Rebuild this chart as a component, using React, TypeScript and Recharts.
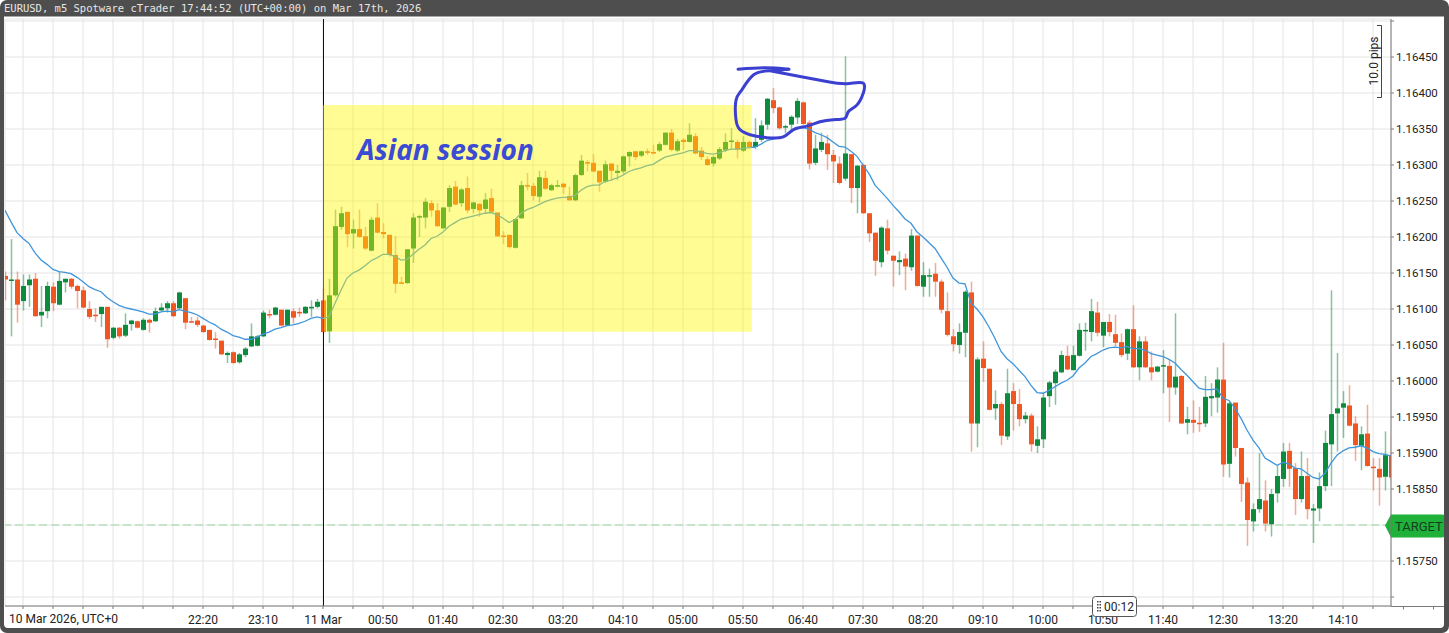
import React from 'react';
import {
  ComposedChart, Bar, Line, Scatter, XAxis, YAxis, CartesianGrid,
  ReferenceLine, ReferenceArea,
} from 'recharts';

// ---------- data (EURUSD m5) ----------
const opens = [
  1.16146,1.16139,1.16141,1.16111,1.16133,1.16142,1.16091,1.16097,1.16131,1.16106,
  1.16137,1.16142,1.16132,1.16126,1.16100,1.16092,1.16093,1.16103,1.16060,1.16074,
  1.16063,1.16079,1.16083,1.16071,1.16085,1.16083,1.16098,1.16101,1.16108,1.16101,
  1.16115,1.16083,1.16084,1.16077,1.16071,1.16059,1.16056,1.16036,1.16040,1.16026,
  1.16036,1.16048,1.16049,1.16062,1.16093,1.16092,1.16099,1.16077,1.16097,1.16096,
  1.16094,1.16102,1.16103,1.16112,1.16069,1.16119,1.16214,1.16235,1.16205,1.16211,
  1.16201,1.16181,1.16227,1.16207,1.16203,1.16175,1.16137,1.16136,1.16184,1.16228,
  1.16227,1.16247,1.16237,1.16212,1.16242,1.16270,1.16247,1.16268,1.16239,1.16246,
  1.16239,1.16254,1.16234,1.16202,1.16203,1.16185,1.16226,1.16272,1.16271,1.16256,
  1.16282,1.16265,1.16271,1.16274,1.16257,1.16251,1.16286,1.16304,1.16303,1.16292,
  1.16277,1.16302,1.16289,1.16291,1.16312,1.16319,1.16313,1.16319,1.16318,1.16320,
  1.16328,1.16345,1.16320,1.16335,1.16332,1.16340,1.16320,1.16308,1.16302,1.16309,
  1.16321,1.16333,1.16332,1.16320,1.16332,1.16325,1.16335,1.16356,1.16390,1.16380,
  1.16353,1.16356,1.16366,1.16387,1.16359,1.16303,1.16321,1.16330,1.16314,1.16302,
  1.16281,1.16315,1.16268,1.16300,1.16233,1.16206,1.16165,1.16212,1.16174,1.16165,
  1.16170,1.16158,1.16202,1.16131,1.16146,1.16149,1.16138,1.16097,1.16062,1.16050,
  1.16067,1.16123,1.15941,1.16031,1.16017,1.15962,1.15968,1.15923,1.15986,1.15968,
  1.15947,1.15952,1.15910,1.15919,1.15979,1.15997,1.16012,1.16035,1.16015,1.16035,
  1.16070,1.16068,1.16095,1.16063,1.16082,1.16065,1.16054,1.16038,1.16072,1.16019,
  1.16055,1.16019,1.16013,1.16021,1.16021,1.15991,1.16007,1.15942,1.15946,1.15942,
  1.15941,1.15976,1.15977,1.16002,1.15885,1.15970,1.15907,1.15859,1.15805,1.15822,
  1.15834,1.15801,1.15844,1.15864,1.15903,1.15879,1.15836,1.15868,1.15820,1.15823,
  1.15854,1.15912,1.15955,1.15963,1.15966,1.15941,1.15910,1.15927,1.15881,1.15878,
  1.15867,1.15897,
];
const highs = [
  1.16152,1.16197,1.16152,1.16148,1.16148,1.16150,1.16132,1.16138,1.16137,1.16152,
  1.16142,1.16143,1.16134,1.16131,1.16111,1.16101,1.16103,1.16103,1.16075,1.16075,
  1.16094,1.16085,1.16084,1.16087,1.16087,1.16102,1.16108,1.16111,1.16111,1.16124,
  1.16115,1.16089,1.16089,1.16078,1.16071,1.16068,1.16056,1.16041,1.16041,1.16039,
  1.16047,1.16080,1.16064,1.16098,1.16099,1.16103,1.16099,1.16099,1.16101,1.16102,
  1.16104,1.16112,1.16114,1.16130,1.16142,1.16238,1.16242,1.16235,1.16224,1.16238,
  1.16214,1.16228,1.16247,1.16219,1.16203,1.16201,1.16145,1.16183,1.16233,1.16231,
  1.16254,1.16251,1.16247,1.16241,1.16272,1.16278,1.16268,1.16284,1.16249,1.16247,
  1.16261,1.16267,1.16234,1.16208,1.16203,1.16225,1.16278,1.16289,1.16275,1.16292,
  1.16292,1.16274,1.16279,1.16275,1.16270,1.16288,1.16314,1.16307,1.16315,1.16292,
  1.16306,1.16302,1.16300,1.16313,1.16319,1.16320,1.16320,1.16323,1.16328,1.16332,
  1.16345,1.16350,1.16336,1.16337,1.16358,1.16344,1.16325,1.16312,1.16313,1.16325,
  1.16344,1.16351,1.16335,1.16340,1.16334,1.16365,1.16362,1.16393,1.16407,1.16381,
  1.16356,1.16369,1.16393,1.16388,1.16362,1.16342,1.16345,1.16342,1.16321,1.16312,
  1.16451,1.16315,1.16300,1.16302,1.16233,1.16206,1.16215,1.16224,1.16174,1.16180,
  1.16177,1.16211,1.16202,1.16165,1.16156,1.16164,1.16141,1.16123,1.16072,1.16080,
  1.16126,1.16138,1.16033,1.16055,1.16017,1.15987,1.15971,1.16017,1.15997,1.15989,
  1.15957,1.15955,1.15937,1.15984,1.16000,1.16016,1.16042,1.16049,1.16049,1.16080,
  1.16081,1.16114,1.16110,1.16082,1.16093,1.16092,1.16066,1.16073,1.16105,1.16062,
  1.16062,1.16041,1.16021,1.16043,1.16029,1.16094,1.16008,1.15964,1.15973,1.15964,
  1.16007,1.15997,1.16019,1.16053,1.15971,1.15970,1.15907,1.15866,1.15830,1.15900,
  1.15862,1.15850,1.15883,1.15914,1.15914,1.15886,1.15902,1.15893,1.15829,1.15873,
  1.15931,1.16126,1.16039,1.15986,1.15994,1.15951,1.15937,1.15967,1.15893,1.15893,
  1.15930,1.15925,
];
const lows = [
  1.16112,1.16062,1.16081,1.16098,1.16103,1.16089,1.16075,1.16087,1.16097,1.16105,
  1.16123,1.16128,1.16101,1.16101,1.16086,1.16082,1.16075,1.16046,1.16058,1.16059,
  1.16061,1.16070,1.16073,1.16070,1.16067,1.16082,1.16097,1.16095,1.16089,1.16100,
  1.16072,1.16081,1.16075,1.16067,1.16056,1.16045,1.16036,1.16025,1.16024,1.16024,
  1.16033,1.16047,1.16048,1.16061,1.16087,1.16091,1.16076,1.16076,1.16080,1.16089,
  1.16093,1.16089,1.16101,1.16066,1.16053,1.16117,1.16210,1.16186,1.16184,1.16199,
  1.16182,1.16180,1.16205,1.16198,1.16173,1.16122,1.16135,1.16135,1.16164,1.16200,
  1.16212,1.16228,1.16214,1.16212,1.16235,1.16244,1.16242,1.16233,1.16233,1.16228,
  1.16233,1.16234,1.16200,1.16190,1.16184,1.16184,1.16225,1.16265,1.16251,1.16248,
  1.16265,1.16264,1.16269,1.16260,1.16250,1.16250,1.16285,1.16291,1.16290,1.16263,
  1.16275,1.16278,1.16279,1.16288,1.16298,1.16307,1.16311,1.16314,1.16315,1.16318,
  1.16327,1.16319,1.16318,1.16321,1.16331,1.16315,1.16307,1.16299,1.16298,1.16307,
  1.16318,1.16321,1.16309,1.16318,1.16323,1.16322,1.16332,1.16349,1.16372,1.16349,
  1.16344,1.16345,1.16357,1.16356,1.16294,1.16300,1.16318,1.16293,1.16275,1.16273,
  1.16278,1.16247,1.16233,1.16232,1.16193,1.16146,1.16158,1.16176,1.16131,1.16147,
  1.16126,1.16153,1.16131,1.16117,1.16117,1.16117,1.16094,1.16062,1.16041,1.16038,
  1.16033,1.15902,1.15908,1.15999,1.15959,1.15946,1.15911,1.15918,1.15931,1.15937,
  1.15941,1.15902,1.15900,1.15907,1.15964,1.15967,1.16011,1.16015,1.16015,1.16034,
  1.16042,1.16055,1.16062,1.16047,1.16062,1.16048,1.16033,1.16029,1.16018,1.16001,
  1.16018,1.16001,1.16012,1.15983,1.15943,1.15981,1.15940,1.15926,1.15928,1.15929,
  1.15936,1.15951,1.15956,1.15867,1.15866,1.15895,1.15832,1.15771,1.15791,1.15817,
  1.15791,1.15784,1.15831,1.15853,1.15853,1.15814,1.15831,1.15808,1.15775,1.15805,
  1.15847,1.15854,1.15902,1.15921,1.15937,1.15889,1.15876,1.15881,1.15848,1.15827,
  1.15848,1.15860,
];
const closes = [
  1.16141,1.16141,1.16106,1.16132,1.16141,1.16090,1.16096,1.16132,1.16108,1.16139,
  1.16142,1.16131,1.16125,1.16102,1.16089,1.16091,1.16103,1.16058,1.16074,1.16062,
  1.16078,1.16084,1.16074,1.16085,1.16081,1.16097,1.16102,1.16108,1.16090,1.16123,
  1.16081,1.16082,1.16078,1.16068,1.16057,1.16058,1.16037,1.16039,1.16025,1.16037,
  1.16045,1.16062,1.16062,1.16095,1.16091,1.16102,1.16077,1.16099,1.16088,1.16095,
  1.16103,1.16103,1.16110,1.16068,1.16119,1.16215,1.16233,1.16204,1.16211,1.16200,
  1.16184,1.16224,1.16206,1.16204,1.16175,1.16135,1.16136,1.16183,1.16227,1.16229,
  1.16249,1.16237,1.16215,1.16241,1.16268,1.16245,1.16266,1.16237,1.16248,1.16237,
  1.16252,1.16235,1.16201,1.16201,1.16186,1.16225,1.16272,1.16271,1.16257,1.16283,
  1.16267,1.16272,1.16272,1.16269,1.16251,1.16286,1.16306,1.16303,1.16291,1.16276,
  1.16301,1.16292,1.16292,1.16312,1.16318,1.16311,1.16319,1.16317,1.16317,1.16329,
  1.16345,1.16321,1.16333,1.16332,1.16342,1.16316,1.16311,1.16300,1.16311,1.16322,
  1.16332,1.16334,1.16321,1.16332,1.16325,1.16332,1.16355,1.16392,1.16379,1.16351,
  1.16354,1.16367,1.16389,1.16357,1.16302,1.16323,1.16332,1.16315,1.16305,1.16275,
  1.16316,1.16268,1.16299,1.16233,1.16205,1.16167,1.16213,1.16181,1.16167,1.16168,
  1.16159,1.16202,1.16132,1.16147,1.16147,1.16138,1.16099,1.16064,1.16051,1.16068,
  1.16124,1.15941,1.16030,1.16018,1.15960,1.15968,1.15924,1.15983,1.15968,1.15947,
  1.15952,1.15912,1.15919,1.15977,1.15998,1.16013,1.16036,1.16016,1.16036,1.16071,
  1.16071,1.16097,1.16067,1.16082,1.16068,1.16053,1.16036,1.16072,1.16019,1.16055,
  1.16019,1.16012,1.16020,1.16022,1.15991,1.16006,1.15941,1.15947,1.15942,1.15941,
  1.15978,1.15979,1.16002,1.15884,1.15969,1.15907,1.15857,1.15807,1.15822,1.15836,
  1.15802,1.15843,1.15868,1.15902,1.15878,1.15836,1.15868,1.15822,1.15823,1.15854,
  1.15914,1.15954,1.15962,1.15969,1.15938,1.15911,1.15926,1.15882,1.15880,1.15866,
  1.15897,1.15866,
];
const movingAvg = [
  1.16237,1.16221,1.16206,1.16198,1.16191,1.16178,1.16168,1.16162,1.16155,1.16152,
  1.16151,1.16149,1.16144,1.16138,1.16131,1.16127,1.16124,1.16116,1.16110,1.16105,
  1.16102,1.16100,1.16098,1.16096,1.16093,1.16093,1.16096,1.16097,1.16096,1.16099,
  1.16097,1.16095,1.16092,1.16087,1.16082,1.16078,1.16072,1.16068,1.16063,1.16061,
  1.16058,1.16058,1.16061,1.16065,1.16068,1.16072,1.16074,1.16077,1.16078,1.16080,
  1.16083,1.16087,1.16089,1.16087,1.16089,1.16108,1.16126,1.16143,1.16150,1.16154,
  1.16160,1.16167,1.16171,1.16176,1.16176,1.16173,1.16168,1.16169,1.16176,1.16183,
  1.16189,1.16198,1.16201,1.16207,1.16215,1.16220,1.16225,1.16227,1.16229,1.16231,
  1.16233,1.16234,1.16231,1.16226,1.16220,1.16224,1.16233,1.16238,1.16241,1.16245,
  1.16249,1.16252,1.16254,1.16255,1.16255,1.16258,1.16265,1.16270,1.16272,1.16272,
  1.16277,1.16279,1.16282,1.16286,1.16291,1.16294,1.16296,1.16299,1.16301,1.16306,
  1.16311,1.16313,1.16315,1.16317,1.16320,1.16320,1.16318,1.16316,1.16315,1.16317,
  1.16320,1.16322,1.16322,1.16323,1.16324,1.16325,1.16329,1.16334,1.16336,1.16338,
  1.16340,1.16346,1.16351,1.16352,1.16350,1.16345,1.16342,1.16338,1.16332,1.16326,
  1.16325,1.16319,1.16312,1.16300,1.16288,1.16272,1.16263,1.16254,1.16244,1.16235,
  1.16225,1.16219,1.16207,1.16200,1.16192,1.16184,1.16171,1.16158,1.16143,1.16136,
  1.16135,1.16108,1.16100,1.16089,1.16075,1.16059,1.16041,1.16031,1.16024,1.16015,
  1.16006,1.15994,1.15984,1.15983,1.15987,1.15992,1.15997,1.16001,1.16007,1.16018,
  1.16025,1.16034,1.16038,1.16043,1.16046,1.16047,1.16046,1.16048,1.16045,1.16045,
  1.16043,1.16038,1.16036,1.16034,1.16030,1.16025,1.16016,1.16008,1.15999,1.15990,
  1.15988,1.15988,1.15989,1.15976,1.15973,1.15962,1.15948,1.15932,1.15918,1.15907,
  1.15893,1.15888,1.15883,1.15887,1.15885,1.15879,1.15878,1.15872,1.15866,1.15864,
  1.15872,1.15886,1.15897,1.15903,1.15907,1.15908,1.15910,1.15907,1.15902,1.15899,
  1.15898,1.15896,
];

// x tick labels, one every 10 bars starting at bar 33 (22:20)
const timeTickLabels = [
  '22:20','23:10','11 Mar','00:50','01:40','02:30','03:20','04:10','05:00','05:50',
  '06:40','07:30','08:20','09:10','10:00','10:50','11:40','12:30','13:20','14:10',
];
const firstLabelBar = 33;
const dayStartBar = 53; // 11 Mar 00:00
const dateLabel = '10 Mar 2026, UTC+0';

const priceTicks = [
  1.157,1.1575,1.158,1.1585,1.159,1.1595,1.16,1.1605,1.161,1.1615,1.162,1.1625,1.163,1.1635,1.164,1.1645,1.165,
];
const priceTickLabels = [
  '','1.15750','','1.15850','1.15900','1.15950','1.16000','1.16050','1.16100','1.16150',
  '1.16200','1.16250','1.16300','1.16350','1.16400','1.16450','',
];
const targetPrice = 1.158;

// Asian session box (bar index range, price range)
const sessionBars = [53, 124.45];
const sessionPrices = [1.160685, 1.163834];

// freehand annotation strokes (bar index, price)
const annTopBars = [122.17, 126.67, 130.67];
const annTopPrices = [1.16433, 1.16435, 1.16433];
const annLoopBars = [127.5,132.5,136.95,140.28,142.95,143.05,141.95,140.55,140,138.05,135.83,133.62,131.38,129.72,126.95,124.17,122.5,121.83,121.83,122.78,124.72,127.5,130.55];
const annLoopPrices = [1.16431,1.16423,1.16416,1.16413,1.16414,1.164,1.16383,1.16374,1.16365,1.16363,1.1636,1.16354,1.16349,1.16339,1.16338,1.16342,1.16349,1.16363,1.1639,1.16404,1.16425,1.16431,1.16433];

const titleText = 'EURUSD, m5 Spotware cTrader 17:44:52 (UTC+00:00) on Mar 17th, 2026';

// ---------- derived tables ----------
const rows = opens.map((o, i) => ({ i, o, h: highs[i], l: lows[i], c: closes[i], ma: movingAvg[i] }));
const annTop = annTopBars.map((b, k) => ({ i: b, v: annTopPrices[k] }));
const annLoop = annLoopBars.map((b, k) => ({ i: b, v: annLoopPrices[k] }));
const xTicks: number[] = [];
for (let t = 3; t <= 228; t += 5) xTicks.push(t);

const BULL = '#0b8b3b';
const BEAR = '#f2561f';
const AXIS = '#7a7a7a';
const FONT = 'Roboto, "Liberation Sans", Arial, sans-serif';

const fmtX = (v: number) => {
  const k = (v - firstLabelBar) / 10;
  return k >= 0 && Number.isInteger(k) ? timeTickLabels[k] ?? '' : '';
};
const fmtY = (v: number) => {
  const k = priceTicks.findIndex((p) => Math.abs(p - v) < 1e-7);
  return k >= 0 ? priceTickLabels[k] : '';
};

const Candle = (props: any) => {
  const { x, y, width, height, payload } = props;
  if (x == null || y == null || !payload) return null;
  const { o, h, l, c } = payload;
  const top0 = Math.min(y, y + height);
  const hh = Math.abs(height);
  const ppu = hh / (h - l);
  const yOf = (v: number) => top0 + (h - v) * ppu;
  const up = c >= o;
  const color = up ? BULL : BEAR;
  const cx = Math.round(x + width / 2);
  const bt = yOf(Math.max(o, c));
  const bb = yOf(Math.min(o, c));
  const bh = Math.max(1.5, bb - bt);
  return (
    <g>
      <rect x={cx - 0.25} y={top0} width={1.5} height={hh} fill={color} fillOpacity={0.5} />
      <rect x={cx - 2} y={bt} width={5} height={bh} fill={color} />
    </g>
  );
};

const TargetLabel = (props: any) => {
  const vb = props.viewBox;
  if (!vb) return null;
  const yc = vb.y + 0.5;
  const tip = vb.x + vb.width - 6;
  const d = `M${tip},${yc} L${tip + 6},${yc - 11} H${tip + 57} Q${tip + 60},${yc - 11} ${tip + 60},${yc - 8} V${yc + 9} Q${tip + 60},${yc + 12} ${tip + 57},${yc + 12} H${tip + 6} Z`;
  return (
    <g>
      <path d={d} fill="#1fb13a" />
      <text x={tip + 10} y={yc + 5} fontSize={13} fontFamily={FONT} fill="#173d1f">TARGET</text>
    </g>
  );
};

const CrispVLine = (props: any) => {
  const { x1, y1, y2 } = props;
  if (x1 == null) return null;
  const x = Math.floor(x1) + 0.5;
  return <line x1={x} x2={x} y1={y1} y2={y2} stroke="#111" strokeWidth={1} />;
};

const NoDot = () => <g />;

export default function App() {
  const framePath =
    'M7,0 H1442 A7,7 0 0 1 1449,7 V626 A7,7 0 0 1 1442,633 H7 A7,7 0 0 1 0,626 V7 A7,7 0 0 1 7,0 Z ' +
    'M4,16.5 V624 Q4,628 8,628 H1440 Q1444,628 1444,624 V16.5 Z';
  return (
    <div style={{ position: 'absolute', left: 0, top: 0, width: 1449, height: 633, background: '#fff', overflow: 'hidden', fontFamily: FONT }}>
      <ComposedChart width={1449} height={633} data={rows} margin={{ top: 19, right: 0, bottom: 0, left: 5 }}>
        <CartesianGrid stroke="#e4e4e4" />
        <XAxis
          dataKey="i" type="number" domain={[0, 231]} allowDataOverflow ticks={xTicks} interval={0}
          tickFormatter={fmtX} height={27} tickSize={3} tickMargin={6}
          axisLine={{ stroke: AXIS }} tickLine={{ stroke: AXIS }}
          tick={{ fontSize: 12, fill: '#222', fontFamily: FONT }}
        />
        <XAxis xAxisId="ann" dataKey="i" type="number" domain={[0, 231]} allowDataOverflow hide />
        <YAxis
          orientation="right" type="number" domain={[1.156875, 1.1650278]} allowDataOverflow
          ticks={priceTicks} interval={0} tickFormatter={fmtY} width={58} tickSize={3} tickMargin={2}
          axisLine={{ stroke: AXIS }} tickLine={{ stroke: AXIS }}
          tick={{ fontSize: 11.5, fill: '#222', fontFamily: FONT }}
        />
        <ReferenceLine x={dayStartBar} stroke="#111" strokeWidth={1} shape={(p: any) => <CrispVLine {...p} />} />
        <ReferenceLine y={targetPrice} stroke="#9dd5a5" strokeDasharray="8 4" label={<TargetLabel />} />
        <Bar dataKey={(d: any) => [d.l, d.h]} shape={(p: any) => <Candle {...p} />} isAnimationActive={false} />
        <Line dataKey="ma" type="linear" stroke="#4096dc" strokeWidth={1.3} dot={false} activeDot={false} isAnimationActive={false} />
        <ReferenceArea
          x1={sessionBars[0]} x2={sessionBars[1]} y1={sessionPrices[0]} y2={sessionPrices[1]}
          fill="#fff700" fillOpacity={0.42} stroke="none" zIndex={450}
        />
        <Scatter
          xAxisId="ann" data={annTop} dataKey="v" shape={NoDot} isAnimationActive={false}
          line={{ stroke: '#3b40d0', strokeWidth: 3, strokeLinecap: 'round', strokeLinejoin: 'round' }}
          lineJointType="natural"
        />
        <Scatter
          xAxisId="ann" data={annLoop} dataKey="v" shape={NoDot} isAnimationActive={false}
          line={{ stroke: '#3b40d0', strokeWidth: 3, strokeLinecap: 'round', strokeLinejoin: 'round' }}
          lineJointType="natural"
        />
      </ComposedChart>
      <svg width={1449} height={633} style={{ position: 'absolute', left: 0, top: 0, pointerEvents: 'none' }}>
        <text x={357} y={160} fontFamily="'Open Sans', Lato, sans-serif" fontWeight="bold" fontStyle="italic" fontSize={28} fill="#3b4bd3">Asian session</text>
        {/* 10 pips ruler */}
        <path d="M1377,25.5 H1381.5 V97.5 H1377" fill="none" stroke="#444" strokeWidth={1} />
        <text x={1378} y={61} transform="rotate(-90 1378 61)" textAnchor="middle" fontSize={12} fontFamily={FONT} fill="#222">10.0 pips</text>
        {/* x axis continuation under price scale */}
        <path d="M1391,606.5 H1444 M1403.5,606.5 V609.5 M1433.5,606.5 V609.5" stroke={AXIS} strokeWidth={1} />
        <text x={9} y={623} fontSize={12} fontFamily={FONT} fill="#222">{dateLabel}</text>
        {/* countdown box */}
        <rect x={1092.5} y={596.5} width={44} height={20} rx={3} fill="#fff" stroke="#555" strokeWidth={1} />
        {[0, 1].map((cIdx) => [0, 1, 2, 3].map((r) => (
          <rect key={`${cIdx}-${r}`} x={1097 + cIdx * 2.5} y={601 + r * 3} width={1.5} height={1.5} fill="#444" />
        )))}
        <text x={1104} y={611} fontSize={12} fontFamily={FONT} fill="#222">00:12</text>
        {/* frame */}
        <path d={framePath} fill="#4e4e4e" fillRule="evenodd" />
        <text x={4} y={12} fontSize={10.5} fontFamily="'DejaVu Sans Mono', monospace" fill="#e6e6e6">{titleText}</text>
      </svg>
    </div>
  );
}
